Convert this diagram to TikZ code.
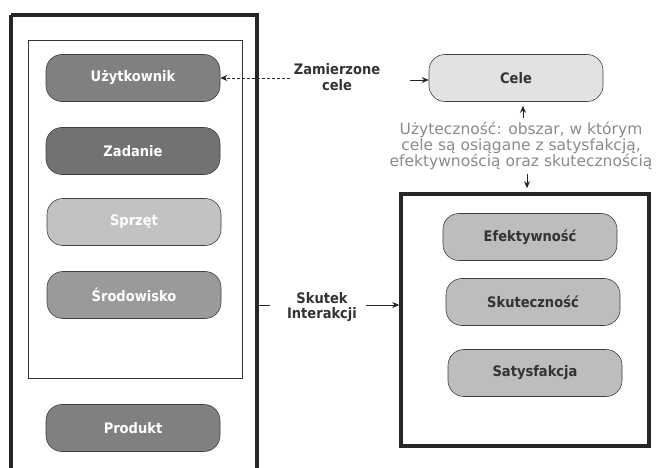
\documentclass[tikz,border=0pt]{standalone}
\usepackage{fontspec}
\setmainfont{DejaVu Sans Condensed}
\newfontfamily\wide{DejaVu Sans}
\usetikzlibrary{arrows.meta}
\definecolor{gA}{HTML}{808080}
\definecolor{gB}{HTML}{727272}
\definecolor{gC}{HTML}{C2C2C2}
\definecolor{gD}{HTML}{9A9A9A}
\definecolor{gE}{HTML}{BDBDBD}
\definecolor{gF}{HTML}{E2E2E2}
\definecolor{txt}{HTML}{333333}
\definecolor{utxt}{HTML}{8A8A8A}
\tikzset{
  pill/.style={draw=black!75, line width=0.6pt, rounded corners=16pt, minimum width=174pt, minimum height=47pt, font=\fontsize{14.5}{16}\selectfont\bfseries, text=white},
  pillr/.style={pill, fill=gE, text=txt},
  lbl/.style={font=\fontsize{14.5}{15.5}\selectfont\bfseries, text=txt, align=center},
  thickbox/.style={draw=black!85, line width=3.5pt},
  arr/.style={-{Stealth[length=7pt,width=6pt]}, line width=0.8pt, black!85},
}
\begin{document}
\begin{tikzpicture}[x=1pt,y=-1pt]
\useasboundingbox (0,0) rectangle (657,468);
\clip (0,0) rectangle (657,468);
% left outer box
\draw[thickbox] (11,15) -- (257,15) -- (257,480) (11,15) -- (11,480);
\node[draw=black!80, line width=0.8pt, minimum width=214pt, minimum height=338pt, inner sep=0pt] (inner) at (135,209) {};
\node[pill, fill=gA] (u) at (133,78) {Użytkownik};
\node[pill, fill=gB] (z) at (133,151) {Zadanie};
\node[pill, fill=gC] (s) at (134,222) {Sprzęt};
\node[pill, fill=gD] (sr) at (134,295) {Środowisko};
\node[pill, fill=gA] (p) at (133,428) {Produkt};
% right
\node[pill, fill=gF, text=txt] (cele) at (516,78) {Cele};
\node[lbl] (zc) at (337,77) {Zamierzone\\cele};
\node[thickbox, minimum width=248pt, minimum height=252pt, inner sep=0pt] (rb) at (525,320) {};
\node[pillr] (ef) at (530,237) {Efektywność};
\node[pillr] (sk) at (533,302) {Skuteczność};
\node[pillr] (sa) at (535,373) {Satysfakcja};
\node[font=\wide\fontsize{15.5}{14.5}\selectfont, text=utxt, align=center] (ut) at (521,146) {Użyteczność: obszar, w którym\\cele są osiągane z satysfakcją,\\ efektywnością oraz skutecznością};
\node[lbl] (si) at (322,307) {Skutek\\Interakcji};
\coordinate (dend) at (290,78);
\coordinate (zce) at (410,80);
\coordinate (t1) at (270,305);
\coordinate (a2) at (366,305);
\coordinate (up1) at (523,118);
\coordinate (dn1) at (527,174);
% connectors
\draw[arr, dashed, dash pattern=on 3pt off 2pt] (dend) -- (u.east);
\draw[arr] (zce) -- (zce -| cele.west);
\draw[line width=0.8pt, black!85] (257,305) -- (t1);
\draw[arr] (a2) -- (a2 -| rb.west);
\draw[arr, shorten >=4pt] (up1) -- (up1 |- cele.south);
\draw[arr, shorten >=4pt] (dn1) -- (dn1 |- rb.north);
\end{tikzpicture}
\end{document}
